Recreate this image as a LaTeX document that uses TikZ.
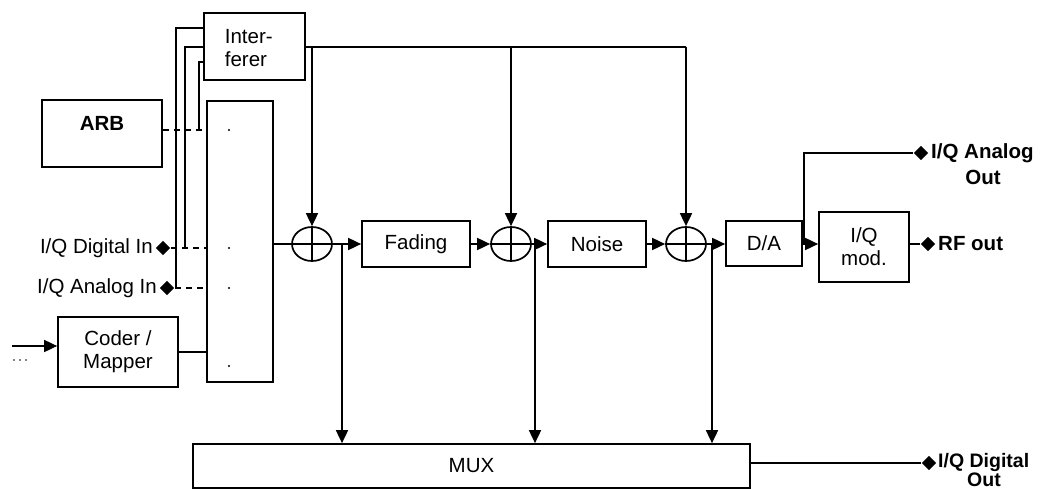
\documentclass[tikz,border=0pt]{standalone}
\usepackage{fontspec}
\setmainfont{Liberation Sans}
\usetikzlibrary{arrows.meta,shapes.geometric}
\begin{document}
\begin{tikzpicture}[x=1pt,y=-1pt,
  line width=1.7pt,
  every node/.style={font=\fontsize{20.5}{23}\selectfont, inner sep=0pt},
  blk/.style={draw, rectangle, line width=1.7pt},
  sumnode/.style={draw, ellipse, minimum width=40pt, minimum height=34pt, line width=1.7pt},
  pin/.style={diamond, fill=black, minimum size=15pt, inner sep=0pt},
  arr/.style={-{Triangle[length=13pt,width=12pt]}},
  dsh/.style={dash pattern=on 6pt off 5pt},
  lbl/.style={font=\fontsize{20.5}{23}\selectfont\bfseries}]
\useasboundingbox (0,0) rectangle (1048,489);
% blocks
\node[blk, minimum width=101pt, minimum height=67pt] (intf) at (254.5,46.5) {};
\node[anchor=west, align=left] (intft) at (224,48) {Inter-\\ferer};
\node[blk, minimum width=120pt, minimum height=67pt] (arb) at (102,133.5) {};
\node[lbl] (arbt) at (102,123) {ARB};
\node[blk, minimum width=66pt, minimum height=281pt] (tall) at (240,241.5) {};
\node[blk, minimum width=120pt, minimum height=70pt, align=center] (coder) at (118,352) {Coder /\\Mapper};
\node[blk, minimum width=108pt, minimum height=46pt] (fad) at (416,244) {Fading};
\node[blk, minimum width=98pt, minimum height=46pt] (noi) at (597,244) {Noise};
\node[blk, minimum width=76pt, minimum height=45pt] (da) at (764,243.5) {D/A};
\node[blk, minimum width=90pt, minimum height=70pt, align=center] (iqm) at (864,247) {I/Q\\mod.};
\node[blk, minimum width=557pt, minimum height=44pt] (mux) at (471.5,466) {MUX};
% summers
\node[sumnode] (s1) at (312,244) {};
\node[sumnode] (s2) at (511,244) {};
\node[sumnode] (s3) at (686,244) {};
\foreach \s in {s1,s2,s3}{
  \draw (\s.north) -- (\s.south);
  \draw (\s.west) -- (\s.east);
}
% dots inside tall block
\foreach \yy in {130,248,288,366}{\fill (229,\yy) circle (1.2pt);}
% inputs
\node[pin] (dIn) at (163,248) {};
\node[anchor=east] (dInt) at ([xshift=-1pt]dIn.west) {I/Q Digital In};
\node[pin] (aIn) at (167,288) {};
\node[anchor=east] (aInt) at ([xshift=-1pt]aIn.west) {I/Q Analog In};
\draw[dsh] (arb.east |- 0,130) -- (tall.west |- 0,130);
\draw[dsh] (dIn.east) -- (tall.west |- dIn.east);
\draw[dsh] (aIn.east) -- (tall.west |- aIn.east);
% interferer feeds
\draw (intf.west |- 0,28) -- (176,28) -- (176,288);
\draw (intf.west |- 0,47) -- (185,47) -- (185,248);
\draw (intf.west |- 0,62) -- (199,62) -- (199,130);
% coder input
\coordinate (inL) at (12,346);
\draw[arr] (inL) -- (inL -| coder.west);
\foreach \xx in {14,20,26}{\fill (\xx,360) circle (0.8pt);}
\draw (coder.east) -- (tall.west |- coder.east);
% main chain
\draw (tall.east |- s1.west) -- (s1.west);
\draw[arr] (s1.east) -- (fad.west);
\draw[arr] (fad.east) -- (s2.west);
\draw[arr] (s2.east) -- (noi.west);
\draw[arr] (noi.east) -- (s3.west);
\draw[arr] (s3.east) -- (da.west |- s3.east);
\draw[arr] (da.east |- 0,244) -- (iqm.west |- 0,244);
% interferer to summers
\coordinate (top) at (686,47);
\draw (intf.east |- top) -- (top) -- (s3.north |- top);
\draw[arr] (s1.north |- top) -- (s1.north);
\draw[arr] (s2.north |- top) -- (s2.north);
\draw[arr] (top) -- (s3.north);
% to MUX
\coordinate (m1) at (342,244);
\coordinate (m2) at (535,244);
\coordinate (m3) at (712,244);
\draw[arr] (m1) -- (m1 |- mux.north);
\draw[arr] (m2) -- (m2 |- mux.north);
\draw[arr] (m3) -- (m3 |- mux.north);
% outputs
\coordinate (br) at (804,244);
\node[pin] (aOut) at (921,153) {};
\draw (br) -- (br |- aOut) -- (aOut.west);
\node[lbl, anchor=west] (aOutt) at ([xshift=1pt]aOut.east) {I/Q Analog};
\node[lbl] (aOutt2) at (983,177) {Out};
\node[pin] (rfOut) at (928,244) {};
\draw (iqm.east |- rfOut) -- (rfOut.west);
\node[lbl, anchor=west] (rfOutt) at ([xshift=1pt]rfOut.east) {RF out};
\node[pin] (dOut) at (929,463) {};
\draw (mux.east |- dOut) -- (dOut.west);
\node[lbl, anchor=west, font=\fontsize{19.5}{22}\selectfont\bfseries] (dOutt) at ([xshift=0pt,yshift=1pt]dOut.east) {I/Q Digital};
\node[lbl, font=\fontsize{19.5}{22}\selectfont\bfseries] (dOutt2) at (984,480) {Out};
\end{tikzpicture}
\end{document}
